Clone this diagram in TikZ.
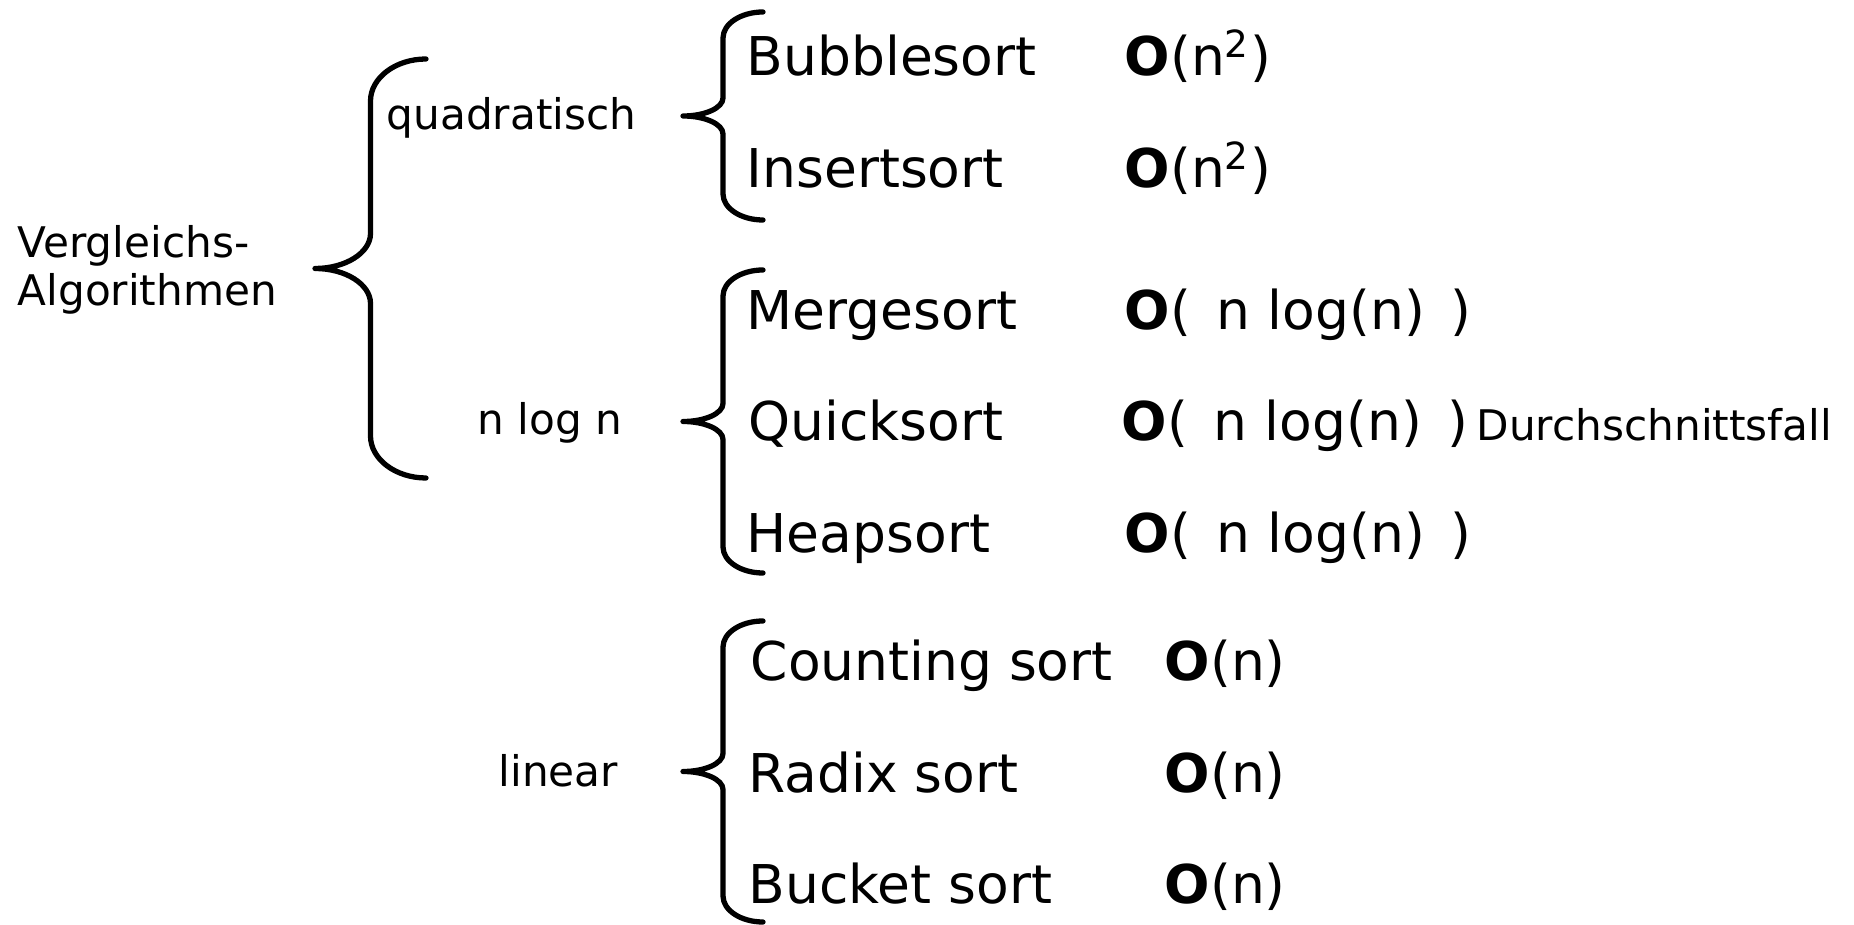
\documentclass[tikz,border=0pt]{standalone}
\usepackage{fontspec}
\setmainfont{DejaVu Sans}
\usepackage{tikz}

% geschweifte Klammer: Spitze, Breite, halbe Hoehe, Bogen aussen, Bogen Spitze
\newcommand{\sortbrace}[5]{%
\begin{scope}[shift={(#1)}]
\draw[klammer] (#2,#3) .. controls ({#2-0.55*#2/2},#3) and ({#2/2},{#3-#4+0.55*#4}) .. ({#2/2},{#3-#4})
 -- ({#2/2},#5) .. controls ({#2/2},{#5-0.55*#5}) and ({0.55*#2/2},0) .. (0,0)
 .. controls ({0.55*#2/2},0) and ({#2/2},{-#5+0.55*#5}) .. ({#2/2},-#5)
 -- ({#2/2},{-#3+#4}) .. controls ({#2/2},{-#3+#4-0.55*#4}) and ({#2-0.55*#2/2},-#3) .. (#2,-#3);
\end{scope}}

\begin{document}
\begin{tikzpicture}[x=0.01cm,y=0.01cm,
 klammer/.style={line width=1.5pt,line cap=round,line join=round},
 gruppe/.style={anchor=base west,inner sep=0pt,font=\fontsize{12}{13.7}\selectfont},
 algo/.style={anchor=base west,inner sep=0pt,font=\fontsize{15.2}{18}\selectfont}]
\useasboundingbox (0,0) rectangle (1854,-925);

\node[gruppe,align=left] (vergleich) at (17,-306) {Vergleichs-\\Algorithmen};
\node[gruppe] (quad) at (386,-130) {quadratisch};
\node[gruppe] (nlogn) at (477,-435) {n log n};
\node[gruppe] (lin) at (498,-787) {linear};

\coordinate (kgross) at (315,-268.5);
\coordinate (kquad) at (683,-116);
\coordinate (knlogn) at (683,-421.5);
\coordinate (klin) at (683,-771.5);

\sortbrace{kgross}{111}{209.5}{42}{35}
\sortbrace{kquad}{80}{104}{26}{18}
\sortbrace{knlogn}{80}{151.5}{26}{18}
\sortbrace{klin}{80}{150.5}{26}{18}

\node[algo] (bubble) at (746,-76) {Bubblesort};
\node[algo] (insert) at (746,-188) {Insertsort};
\node[algo] (merge) at (746,-330) {Mergesort};
\node[algo] (quick) at (748,-441) {Quicksort};
\node[algo] (heap) at (746,-553) {Heapsort};
\node[algo] (counting) at (750,-681) {Counting sort};
\node[algo] (radix) at (748,-793) {Radix sort};
\node[algo] (bucket) at (748,-904) {Bucket sort};

\node[algo] (obubble) at (1124,-76) {\textbf{O}(n\textsuperscript{2})};
\node[algo] (oinsert) at (1124,-188) {\textbf{O}(n\textsuperscript{2})};
\node[algo] (omerge) at (1124,-330) {\textbf{O}(\, n log(n) \,)};
\node[algo] (oquick) at (1121,-441) {\textbf{O}(\, n log(n) \,)};
\node[algo] (oheap) at (1124,-553) {\textbf{O}(\, n log(n) \,)};
\node[gruppe] (durch) at (1476,-441) {Durchschnittsfall};
\node[algo] (ocounting) at (1164,-681) {\textbf{O}(n)};
\node[algo] (oradix) at (1164,-793) {\textbf{O}(n)};
\node[algo] (obucket) at (1164,-904) {\textbf{O}(n)};

\end{tikzpicture}
\end{document}
